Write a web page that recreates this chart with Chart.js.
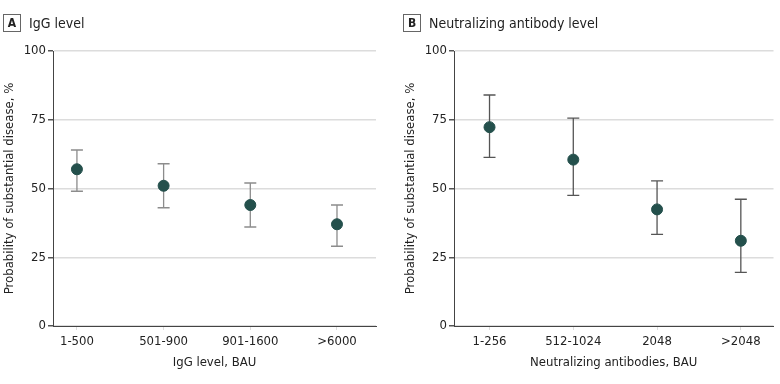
<!DOCTYPE html>
<html>
<head>
<meta charset="utf-8">
<script src="https://cdn.jsdelivr.net/npm/chart.js@4.4.1/dist/chart.umd.min.js"></script>
<style>
  body { margin: 0; background: #fff; font-family: 'Liberation Sans Narrow', 'DejaVu Sans Condensed', sans-serif; }
  #wrap { position: relative; width: 780px; height: 384px; }
  .panel { position: absolute; top: 0; width: 390px; height: 384px; }
  .head { position: absolute; top: 14px; font-size: 14px; color: #222; white-space: nowrap; }
  .box { display: inline-block; width: 16px; height: 16px; border: 1px solid #666; text-align: center;
         font-weight: bold; font-size: 12px; line-height: 16px; margin-right: 8px; vertical-align: middle; }
  .head span.t { vertical-align: middle; }
</style>
</head>
<body>
<div id="wrap">
  <div class="panel" style="left:0"><canvas id="chartA"></canvas></div>
  <div class="panel" style="left:390px"><canvas id="chartB"></canvas></div>
  <div class="head" style="left:3px"><span class="box">A</span><span class="t">IgG level</span></div>
  <div class="head" style="left:403px"><span class="box">B</span><span class="t">Neutralizing antibody level</span></div>
</div>
<script>
// data
var iggLabels = ['1-500', '501-900', '901-1600', '>6000'];
var iggProb = [57, 51, 44, 37];
var iggLow = [49, 43, 36, 29];
var iggHigh = [64, 59, 52, 44];

var nabLabels = ['1-256', '512-1024', '2048', '>2048'];
var nabProb = [72.3, 60.5, 42.4, 31];
var nabLow = [61.3, 47.5, 33.3, 19.5];
var nabHigh = [84, 75.6, 52.8, 46.1];

var yTicks = [0, 25, 50, 75, 100];

Chart.defaults.font.family = "'Liberation Sans Narrow', 'DejaVu Sans Condensed', sans-serif";
Chart.defaults.color = '#222';

// draws the confidence interval whiskers using the chart scales
var errorBarPlugin = {
    id: 'errorBars',
    beforeDatasetsDraw: function (chart, args, opts) {
        var ctx = chart.ctx;
        var xs = chart.scales.x, ys = chart.scales.y;
        ctx.save();
        ctx.strokeStyle = opts.color;
        ctx.lineWidth = 1.3;
        for (var i = 0; i < opts.low.length; i++) {
            var x = xs.getPixelForValue(i + 1);
            var y1 = ys.getPixelForValue(opts.low[i]);
            var y2 = ys.getPixelForValue(opts.high[i]);
            ctx.beginPath();
            ctx.moveTo(x, y1); ctx.lineTo(x, y2);
            ctx.moveTo(x - 6, y1); ctx.lineTo(x + 6, y1);
            ctx.moveTo(x - 6, y2); ctx.lineTo(x + 6, y2);
            ctx.stroke();
        }
        ctx.restore();
    }
};

function makeChart(id, labels, prob, low, high, xTitle, xMin, xMax, padLeft, padRight, barColor) {
    var ctx = document.getElementById(id).getContext('2d');
    return new Chart(ctx, {
        type: 'scatter',
        data: {
            datasets: [{
                data: prob.map(function (v, i) { return { x: i + 1, y: v }; }),
                backgroundColor: '#24504c',
                borderColor: '#24504c',
                pointRadius: 5.5,
                pointHoverRadius: 5.5
            }]
        },
        options: {
            responsive: true,
            maintainAspectRatio: false,
            animation: false,
            layout: { padding: { top: 51, left: padLeft, right: padRight, bottom: 0 } },
            plugins: {
                legend: { display: false },
                tooltip: { enabled: false },
                errorBars: { low: low, high: high, color: barColor }
            },
            scales: {
                x: {
                    type: 'linear',
                    min: xMin,
                    max: xMax,
                    afterBuildTicks: function (scale) {
                        scale.ticks = labels.map(function (l, i) { return { value: i + 1 }; });
                    },
                    afterFit: function (scale) { scale.height = 58; },
                    ticks: {
                        font: { size: 13 },
                        padding: 4,
                        maxRotation: 0,
                        callback: function (v) { return labels[v - 1]; }
                    },
                    grid: { drawOnChartArea: false, tickLength: 4, tickColor: '#ddd' },
                    border: { color: '#444', width: 1 },
                    title: { display: true, text: xTitle, font: { size: 13 }, padding: { top: 0, bottom: 14 } }
                },
                y: {
                    min: 0,
                    max: 100,
                    afterBuildTicks: function (scale) {
                        scale.ticks = yTicks.map(function (v) { return { value: v }; });
                    },
                    afterFit: function (scale) { scale.width = 53; },
                    ticks: { font: { size: 13 }, padding: 2 },
                    grid: { color: '#dcdcdc', lineWidth: 1.5, tickLength: 5, tickColor: '#555' },
                    border: { color: '#444', width: 1 },
                    title: { display: true, text: 'Probability of substantial disease, %', font: { size: 13 }, padding: { top: 2, bottom: 0 } }
                }
            }
        },
        plugins: [errorBarPlugin]
    });
}

makeChart('chartA', iggLabels, iggProb, iggLow, iggHigh, 'IgG level, BAU', 0.724, 4.45, 0, 14, '#8c8c8c');
makeChart('chartB', nabLabels, nabProb, nabLow, nabHigh, 'Neutralizing antibodies, BAU', 0.576, 4.39, 11, 0, '#555');
</script>
</body>
</html>
